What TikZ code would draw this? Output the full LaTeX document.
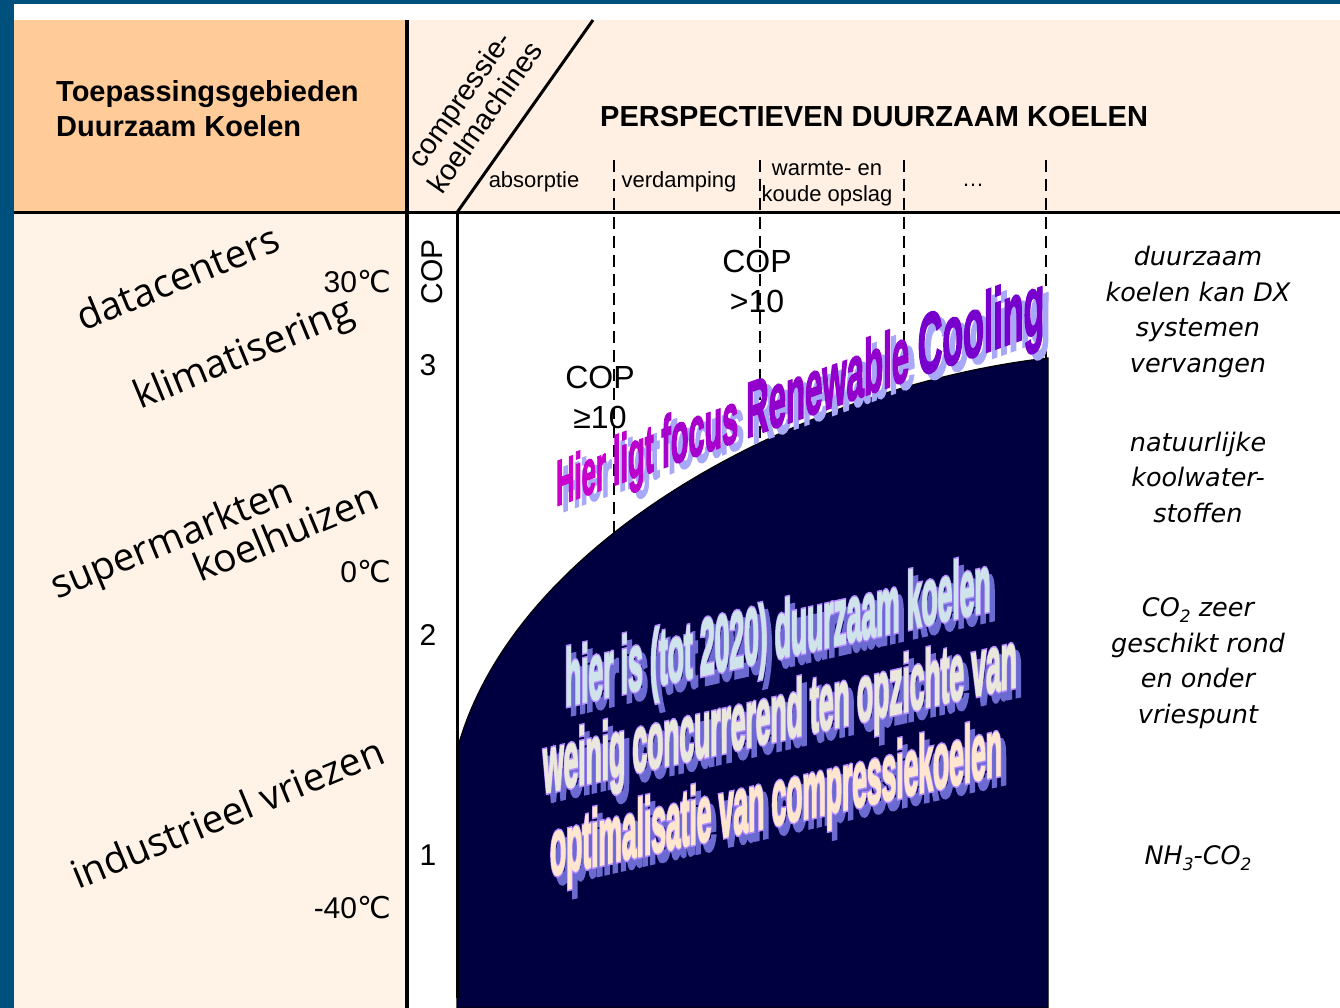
\documentclass[tikz,border=0pt]{standalone}
\usepackage{fontspec}
\setmainfont{Liberation Sans}
\newfontfamily\opensans{Open Sans}
\newfontfamily\dejavu{DejaVu Sans}
\newfontfamily\wafont{Liberation Sans Bold}[FakeBold=3]
\newfontfamily\waout{Liberation Sans Bold}[FakeBold=7]
\newcommand\fs[2]{\fontsize{#1}{#2}\selectfont}
\newcommand\subs[1]{\raisebox{-0.25em}{\fs{17}{17}#1}}
\newcommand\degc{{\dejavu ℃}}
\definecolor{bandblue}{HTML}{00507E}
\definecolor{hdrorange}{HTML}{FFCC99}
\definecolor{hdrpeach}{HTML}{FFF0E3}
\definecolor{colpeach}{HTML}{FFF3E8}
\definecolor{navy}{HTML}{000040}
\definecolor{waA}{HTML}{CC00CC}
\definecolor{waB}{HTML}{BB00CC}
\definecolor{waC}{HTML}{A800CC}
\definecolor{waD}{HTML}{9200CC}
\definecolor{waE}{HTML}{7800CC}
\definecolor{washadow}{HTML}{A8A8F8}
\definecolor{lineA}{HTML}{CFE4EA}
\definecolor{lineB}{HTML}{EAE7DC}
\definecolor{lineC}{HTML}{FFE6CE}
\definecolor{outl}{HTML}{B68CFF}
\definecolor{shad2}{HTML}{6A6AD0}
\begin{document}
\begin{tikzpicture}[x=1pt,y=-1pt,
  every node/.style={inner sep=0pt},
  gridline/.style={line width=3.5pt, black},
  dashline/.style={line width=2.5pt, black, dash pattern=on 12pt off 7pt},
  hdrtext/.style={font=\fs{22}{26}, align=center},
  coptext/.style={font=\fs{32}{40}, align=center},
  axistext/.style={font=\fs{30}{34}},
  temptext/.style={font=\fs{30}{34}, anchor=east},
  apptext/.style={font=\opensans\fs{39}{42}, rotate=22.5, anchor=base west},
  rtext/.style={align=center, font=\dejavu\itshape\fs{25.5}{35.5}},
  waone/.style={anchor=base west, yslant=0.358, xscale=0.40, font=\wafont},
  watwo/.style={anchor=base west, yslant=0.225, xscale=0.33, font=\wafont\fs{80}{80}},
  watwoout/.style={anchor=base west, yslant=0.225, xscale=0.33, font=\waout\fs{80}{80}}
]
\useasboundingbox (0,0) rectangle (1340,1008);
% backgrounds
\fill[bandblue] (0,0) rectangle (1340,1008);
\fill[white] (14,4) rectangle (1340,1008);
\fill[hdrorange] (14,20) rectangle (407,212);
\fill[hdrpeach] (407,20) rectangle (1340,212);
\fill[colpeach] (14,212) rectangle (407,1008);

% named coordinates
\coordinate (vTop) at (407,20);
\coordinate (vBot) at (407,1008);
\coordinate (hL) at (14,212.5);
\coordinate (hR) at (1340,212.5);
\coordinate (aTop) at (457,212.5);
\coordinate (aBot) at (457,998);
\coordinate (dTop) at (593,20);
\coordinate (d1t) at (614,160); \coordinate (d1b) at (614,545);
\coordinate (d2t) at (760,160); \coordinate (d2b) at (760,445);
\coordinate (d3t) at (904,160); \coordinate (d3b) at (904,400);
\coordinate (d4t) at (1046,160); \coordinate (d4b) at (1046,372);
\coordinate (cS) at (457,750);
\coordinate (cE) at (1048,358);

% dashed column separators
\draw[dashline] (d1t) -- (d1b);
\draw[dashline] (d2t) -- (d2b);
\draw[dashline] (d3t) -- (d3b);
\draw[dashline] (d4t) -- (d4b);

% dark region
\filldraw[fill=navy, draw=black, line width=1.2pt]
  (cS) .. controls (515,535) and (810,385) .. (cE) -- (1048,1008) -- (457,1008) -- cycle;

% grid lines
\draw[gridline] (vTop) -- (vBot);
\draw[gridline] (hL) -- (hR);
\draw[gridline, line width=3pt] (aTop) -- (aBot);
\draw[gridline, line width=3pt] (aTop) -- (dTop);

% header texts
\node[anchor=base west, font=\bfseries\fs{29}{35}] (t1) at (56,102) {Toepassingsgebieden};
\node[anchor=base west, font=\bfseries\fs{29}{35}] (t2) at (56,137) {Duurzaam Koelen};
\node[anchor=base west, font=\bfseries\fs{29}{35}] (persp) at (600,127) {PERSPECTIEVEN DUURZAAM KOELEN};
\node[rotate=55, align=center, font=\fs{29}{31}] (comp) at (472,108) {compressie-\\koelmachines};
\node[hdrtext] (abs) at (534,182) {absorptie};
\node[hdrtext] (verd) at (679,182) {verdamping};
\node[hdrtext] (wko) at (827,184) {warmte- en\\koude opslag};
\node[hdrtext] (dots) at (973,185) {…};

% COP texts
\node[coptext] (copA) at (757,281) {COP\\>10};
\node[coptext] (copB) at (600,397) {COP\\≥10};
\node[axistext, rotate=90] (copAx) at (432,272) {COP};
\node[axistext] (ax3) at (428,365) {3};
\node[axistext] (ax2) at (428,635) {2};
\node[axistext] (ax1) at (428,855) {1};

% temperatures
\node[temptext] (tmp30) at (391,282) {30\degc};
\node[temptext] (tmp0) at (391,572) {0\degc};
\node[temptext] (tmp40) at (391,908) {-40\degc};

% application areas
\node[apptext] (dc) at (83,332) {datacenters};
\node[apptext] (kl) at (140,410) {klimatisering};
\node[apptext] (sm) at (57,600) {supermarkten};
\node[apptext] (kh) at (200,583) {koelhuizen};
\node[apptext] (iv) at (78,890) {industrieel vriezen};

% right column
\node[rtext] (r1) at (1198,312) {duurzaam\\koelen kan DX\\systemen\\vervangen};
\node[rtext] (r2) at (1198,477) {natuurlijke\\koolwater-\\stoffen};
\node[rtext] (r3) at (1198,663) {CO\subs{2} zeer\\geschikt rond\\en onder\\vriespunt};
\node[rtext] (r4) at (1198,858) {NH\subs{3}-CO\subs{2}};

% WordArt 1
\node[waone, text=washadow] (focusS) at (562,512) {{\fs{64}{66}Hier }{\fs{68}{70}ligt }{\fs{72}{74}focus }{\fs{78}{80}Renewable }{\fs{85}{86}Cooling}};
\node[waone] (focus) at (556,506) {{\fs{64}{66}\color{waA}Hier }{\fs{68}{70}\color{waB}ligt }{\fs{72}{74}\color{waC}focus }{\fs{78}{80}\color{waD}Renewable }{\fs{85}{86}\color{waE}Cooling}};

% WordArt 2 shadows
\node[watwoout, text=shad2] (l1S) at (570,714) {hier is (tot 2020) duurzaam koelen};
\node[watwoout, text=shad2] (l2S) at (548,801) {weinig concurrerend ten opzichte van};
\node[watwoout, text=shad2] (l3S) at (555,884) {optimalisatie van compressiekoelen};
% outlines
\node[watwoout, text=outl] (l1O) at (565,706) {hier is (tot 2020) duurzaam koelen};
\node[watwoout, text=outl] (l2O) at (543,793) {weinig concurrerend ten opzichte van};
\node[watwoout, text=outl] (l3O) at (550,876) {optimalisatie van compressiekoelen};
% fills
\node[watwo, text=lineA] (l1) at (565,706) {hier is (tot 2020) duurzaam koelen};
\node[watwo, text=lineB] (l2) at (543,793) {weinig concurrerend ten opzichte van};
\node[watwo, text=lineC] (l3) at (550,876) {optimalisatie van compressiekoelen};
\end{tikzpicture}
\end{document}
